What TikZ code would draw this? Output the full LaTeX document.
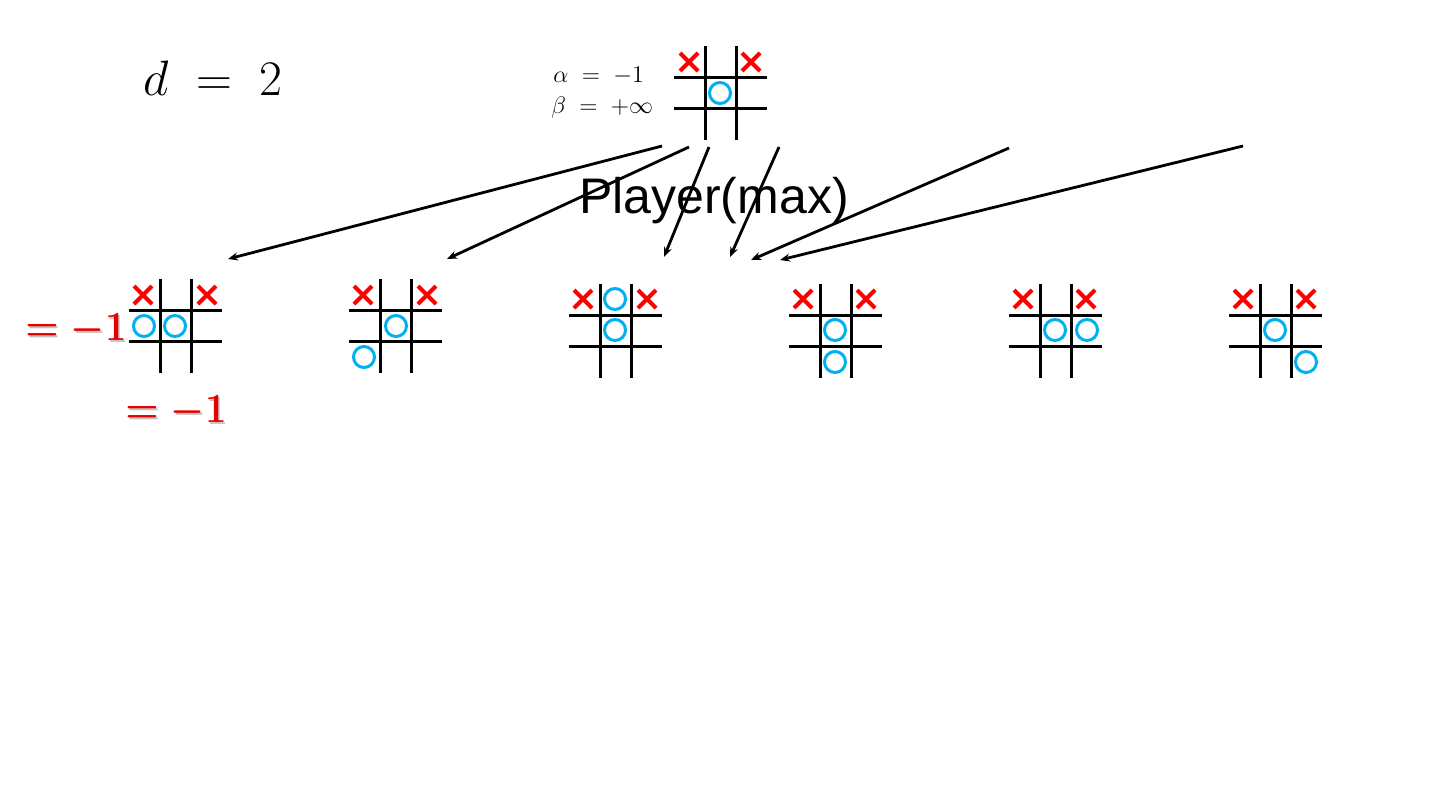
\documentclass[tikz,border=0pt]{standalone}
\usepackage{fontspec}
\usepackage{graphicx}
\setsansfont{Liberation Sans}
\usetikzlibrary{arrows.meta}
\definecolor{xred}{RGB}{255,0,0}
\definecolor{ocyan}{RGB}{0,176,240}
\definecolor{valred}{RGB}{230,0,0}
\newcommand\valtext{\scalebox{0.92}[1]{$=-1$}}
\tikzset{
  grid line/.style={line width=1.5pt,black},
  xmark/.pic={\draw[xred,line width=2.1pt] (-9,-9)--(9,9) (-9,9)--(9,-9);},
  omark/.pic={\draw[ocyan,line width=1.5pt] (0,0) circle[radius=10.5];},
  board/.pic={
    \draw[grid line] (31,0)--(31,94) (62,0)--(62,94) (0,31.5)--(93,31.5) (0,62)--(93,62);
  },
  edge/.style={line width=1.4pt,-{Stealth[length=5pt,width=4pt]}},
  val/.style={text=valred,font=\boldmath\fontsize{20}{24}\selectfont,inner sep=0pt},
  valshadow/.style={text=black!40,opacity=0.6,font=\boldmath\fontsize{20}{24}\selectfont,inner sep=0pt},
  bnode/.style={minimum width=47pt,minimum height=47pt,inner sep=0pt}
}
\begin{document}
\begin{tikzpicture}[x=0.5pt,y=-0.5pt]
\useasboundingbox (0,0) rectangle (1440,810);
% title
\node[inner sep=0pt,font=\fontsize{27}{30}\selectfont] (d) at (213,78) {$d\;=\;2$};
\node[inner sep=0pt,font=\fontsize{11.5}{13}\selectfont,anchor=west] (alpha) at (553,76) {$\alpha\;=\;-1$};
\node[inner sep=0pt,font=\fontsize{11.5}{13}\selectfont,anchor=west] (beta) at (551,107) {$\beta\;=\;+\infty$};
% root board
\node[bnode] (root) at (720.5,93) {};
\pic at (674,46) {board};
\pic at (689,62) {xmark};
\pic at (751,62) {xmark};
\pic at (720,93) {omark};
% board 1
\node[bnode] (c1) at (176,326) {};
\pic at (129,279) {board};
\pic at (143,295) {xmark}; \pic at (207,295) {xmark};
\pic at (144,326) {omark}; \pic at (175,326) {omark};
% board 2
\node[bnode] (c2) at (396,326) {};
\pic at (349,279) {board};
\pic at (363,295) {xmark}; \pic at (427,295) {xmark};
\pic at (396,326) {omark}; \pic at (364,357) {omark};
% board 3
\node[bnode] (c3) at (615,331) {};
\pic at (569,284) {board};
\pic at (583,299) {xmark}; \pic at (647,299) {xmark};
\pic at (615,299) {omark}; \pic at (615,330) {omark};
% board 4
\node[bnode] (c4) at (835,331) {};
\pic at (789,284) {board};
\pic at (803,299) {xmark}; \pic at (866,299) {xmark};
\pic at (835,330) {omark}; \pic at (835,362) {omark};
% board 5
\node[bnode] (c5) at (1055,331) {};
\pic at (1009,284) {board};
\pic at (1023,299) {xmark}; \pic at (1086,299) {xmark};
\pic at (1055,330) {omark}; \pic at (1087,330) {omark};
% board 6
\node[bnode] (c6) at (1275,331) {};
\pic at (1229,284) {board};
\pic at (1243,299) {xmark}; \pic at (1306,299) {xmark};
\pic at (1275,330) {omark}; \pic at (1306,362) {omark};
% arrow endpoints
\coordinate (s1) at (662,146); \coordinate (e1) at (228,259);
\coordinate (s2) at (689,147); \coordinate (e2) at (447,259);
\coordinate (s3) at (709,147); \coordinate (e3) at (664,257);
\coordinate (s4) at (779,147); \coordinate (e4) at (730,257);
\coordinate (s5) at (1009,148); \coordinate (e5) at (751,260);
\coordinate (s6) at (1243,146); \coordinate (e6) at (780,260);
\draw[edge] (s1)--(e1);
\draw[edge] (s2)--(e2);
\draw[edge] (s3)--(e3);
\draw[edge] (s4)--(e4);
\draw[edge] (s5)--(e5);
\draw[edge] (s6)--(e6);
% player label
\node[inner sep=0pt,font=\sffamily\fontsize{25}{30}\selectfont] (player) at (714,201) {Player(max)};
% values
\node[valshadow] at (77.5,331.5) {\valtext};
\node[val] (v1) at (76,330) {\valtext};
\node[valshadow] at (177.5,413.5) {\valtext};
\node[val] (v2) at (176,412) {\valtext};
\end{tikzpicture}
\end{document}
